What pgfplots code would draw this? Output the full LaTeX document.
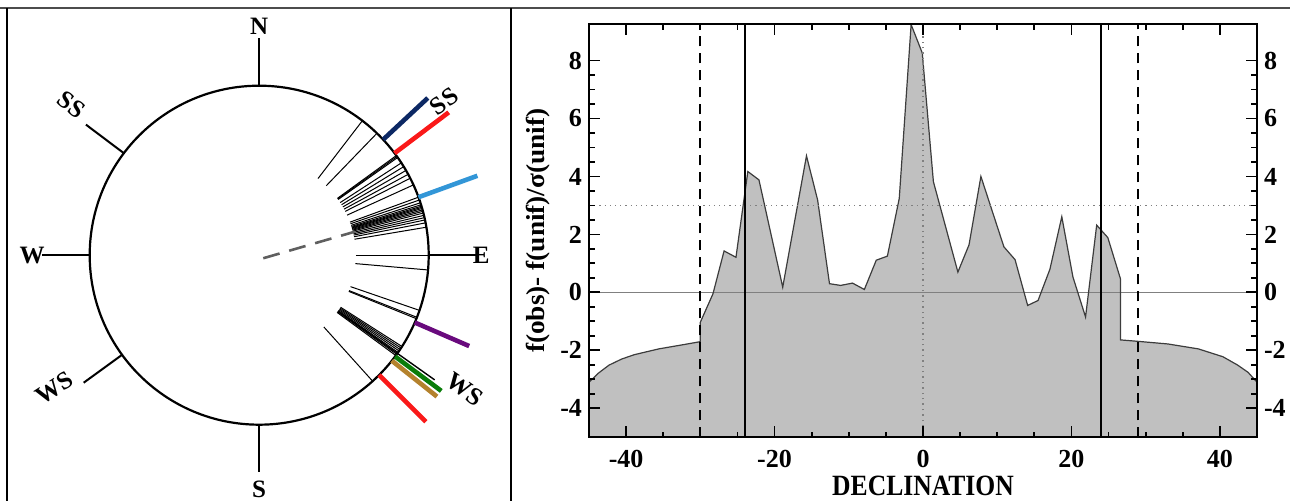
\documentclass[border=0pt]{standalone}
\usepackage{fontspec}
\setmainfont{Liberation Serif}
\usepackage{graphicx}
\usepackage{pgfplots}
\pgfplotsset{compat=1.18}
\usepgfplotslibrary{polar}
\usepackage{pgfplotstable}

\definecolor{fillgray}{RGB}{192,192,192}
\definecolor{curvegray}{RGB}{60,60,60}
\definecolor{navyline}{RGB}{12,40,100}
\definecolor{redline}{RGB}{250,25,25}
\definecolor{skyline}{RGB}{50,150,215}
\definecolor{purpleline}{RGB}{105,10,125}
\definecolor{greenline}{RGB}{10,125,10}
\definecolor{brownline}{RGB}{180,130,45}
\definecolor{dashgray}{RGB}{95,95,95}

% declination excess curve
\pgfplotstableread{
x y
-45.0 -3.10
-43.7 -2.78
-42.3 -2.51
-40.6 -2.30
-38.9 -2.15
-35.6 -1.95
-32.2 -1.80
-30.0 -1.70
-30.0 -1.03
-28.3 -0.05
-26.8 1.43
-25.2 1.21
-23.6 4.17
-22.1 3.88
-18.9 0.18
-15.7 4.71
-14.2 3.19
-12.6 0.30
-11.1 0.24
-9.5 0.32
-7.9 0.10
-6.3 1.11
-4.8 1.25
-3.2 3.24
-1.6 9.24
-0.1 8.26
1.4 3.82
4.7 0.70
6.2 1.64
7.8 4.00
10.9 1.57
12.4 1.13
14.1 -0.45
15.5 -0.28
17.1 0.80
18.7 2.61
20.2 0.53
21.9 -0.85
23.4 2.32
24.9 1.89
26.6 0.47
26.6 -1.64
29.0 -1.69
33.0 -1.78
37.1 -1.95
40.4 -2.22
42.4 -2.51
43.8 -2.76
45.0 -3.10
}\decl

\begin{document}
\begin{tikzpicture}[clab/.style={font=\fontsize{12.5}{15}\selectfont\bfseries, inner sep=0pt}]

% frame
\draw[line width=0.8pt, black!70] (0,246.5pt) -- (645pt,246.5pt);
\draw[line width=0.8pt, black] (3.6pt,0) -- (3.6pt,246.5pt);
\draw[line width=1.1pt, black] (255.5pt,0) -- (255.5pt,246.5pt);

% compass
\begin{polaraxis}[
  scale only axis, width=169.5pt, height=169.5pt,
  at={(129.6pt,122.9pt)}, anchor=origin,
  xmin=0, xmax=360, ymin=0, ymax=1,
  xtick=\empty, ytick=\empty, grid=none,
  x axis line style={line width=1.1pt},
  y axis line style={draw=none},
  clip=false,
]
  % cardinal spokes
  \pgfplotsinvokeforeach{90,0,180,270,143,216}{
    \addplot[black, line width=1pt] coordinates {(#1,1) (#1,1.28)};
  }
  \node[clab] at (axis cs:90,1.35) {N};
  \node[clab] at (axis cs:0,1.31) {E};
  \node[clab] at (axis cs:180,1.34) {W};
  \node[clab] at (axis cs:270,1.38) {S};
  \node[clab, rotate=-37] at (axis cs:141.3,1.42) {SS};
  \node[clab, rotate=37] at (axis cs:39.8,1.42) {SS};
  \node[clab, rotate=33] at (axis cs:213,1.44) {WS};
  \node[clab, rotate=-35] at (axis cs:-33.1,1.45) {WS};

  % directions
  \pgfplotsinvokeforeach{52.5,46,36,35.6,35.2,33,31.5,30,28.5,27,24.5,20,19,18,17.3,16.8,16.4,16,15.5,15,14.4,13.6,12.8,12,11,9.5,0,-5,-19,-21.5,-22,-32.6,-33.2,-33.8,-34.4,-35,-35.8,-36.3,-48}{
    \addplot[black, line width=0.5pt] coordinates {(#1,0.57) (#1,1)};
  }
  \addplot[black, line width=0.7pt] coordinates {(-35.4,0.57) (-35.4,1.27)};

  % mean direction
  \addplot[dashgray, line width=1.3pt, dash pattern=on 8.5pt off 5pt] coordinates {(-37,0.03) (13.8,0.58)};

  % coloured directions
  \addplot[navyline, line width=2.3pt] coordinates {(43,1) (43,1.36)};
  \addplot[redline, line width=2.3pt] coordinates {(37,1) (37,1.40)};
  \addplot[skyline, line width=2.3pt] coordinates {(20,1) (20,1.37)};
  \addplot[purpleline, line width=2.3pt] coordinates {(-23.4,1) (-23.4,1.35)};
  \addplot[brownline, line width=2.3pt] coordinates {(-38.5,1) (-38.5,1.34)};
  \addplot[greenline, line width=2.3pt] coordinates {(-36.7,1) (-36.7,1.34)};
  \addplot[redline, line width=2.3pt] coordinates {(-45,1) (-45,1.39)};
\end{polaraxis}

% declination histogram excess
\begin{axis}[
  scale only axis, width=334pt, height=206.65pt,
  at={(294.5pt,31.85pt)}, anchor=south west,
  xmin=-45, xmax=45, ymin=-5, ymax=9.26,
  xtick={-40,-20,0,20,40}, minor x tick num=3,
  ytick={-4,-2,0,2,4,6,8}, minor y tick num=3,
  tick align=inside, axis on top,
  axis line style={line width=1.1pt},
  every tick/.style={black, line width=0.9pt},
  major tick length=5.5pt, minor tick length=2.8pt,
  /pgf/number format/assume math mode=true,
  tick label style={font=\fontsize{13}{15}\selectfont\bfseries},
  xticklabel style={yshift=-3pt},
  xlabel={\scalebox{1}[1.15]{DECLINATION}},
  ylabel={\scalebox{1.05}[1]{f(obs)- f(unif)/σ(unif)}},
  xlabel style={font=\fontsize{12.8}{15}\selectfont\bfseries, at={(axis description cs:0.5,-0.118)}, anchor=center},
  ylabel style={font=\fontsize{13}{15}\selectfont\bfseries, at={(axis description cs:-0.0763,0.5)}, anchor=center, rotate=0},
]
  \addplot[fill=fillgray, draw=none] table[x=x, y=y] {\decl} |- (axis cs:-45,-5) -- cycle;
  \addplot[gray, line width=0.5pt] coordinates {(-45,0) (45,0)};
  \addplot[curvegray, line width=0.6pt] table[x=x, y=y] {\decl};
  \addplot[gray, line width=0.6pt, dotted] coordinates {(-45,3) (45,3)};
  \addplot[gray, line width=0.7pt, dotted] coordinates {(0,-5) (0,9.26)};
  \addplot[black, line width=1pt, dash pattern=on 5pt off 3.5pt] coordinates {(-30,-5) (-30,9.26)};
  \addplot[black, line width=1pt, dash pattern=on 5pt off 3.5pt] coordinates {(29,-5) (29,9.26)};
  \addplot[black, line width=0.75pt] coordinates {(-24,-5) (-24,9.26)};
  \addplot[black, line width=0.75pt] coordinates {(24,-5) (24,9.26)};
\end{axis}

% right-hand tick labels
\begin{axis}[
  scale only axis, width=334pt, height=206.65pt,
  at={(294.5pt,31.85pt)}, anchor=south west,
  xmin=-45, xmax=45, ymin=-5, ymax=9.26,
  xtick=\empty, ytick={-4,-2,0,2,4,6,8},
  yticklabel pos=right,
  axis line style={draw=none}, tick style={draw=none},
  /pgf/number format/assume math mode=true,
  tick label style={font=\fontsize{13}{15}\selectfont\bfseries},
]
\end{axis}

\pgfresetboundingbox
\path (0,0) rectangle (645pt,250.5pt);
\end{tikzpicture}
\end{document}
